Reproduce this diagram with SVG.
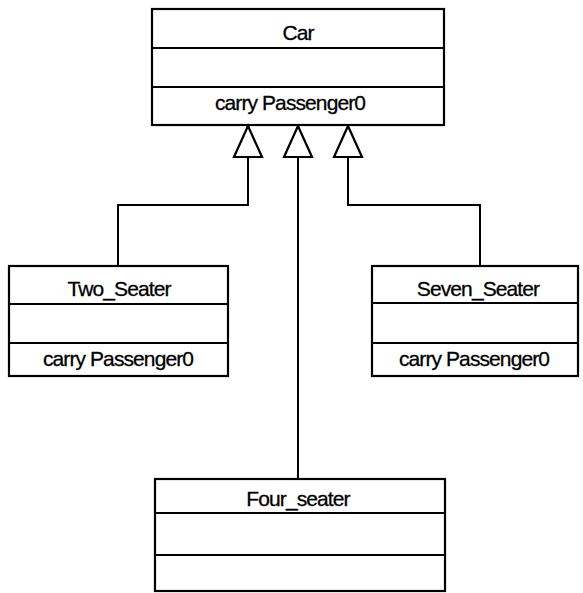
<svg xmlns="http://www.w3.org/2000/svg" width="583" height="593" viewBox="0 0 583 593">
<style>
.box{fill:#fff;stroke:#000;stroke-width:2.2}
.sep{stroke:#000;stroke-width:2}
.t{font-family:"Liberation Sans",Arial,sans-serif;font-size:21px;letter-spacing:-0.9px;fill:#000;stroke:#000;stroke-width:0.3;text-anchor:middle}
.c{fill:none;stroke:#000;stroke-width:2}
.tri{fill:#fff;stroke:#000;stroke-width:2.2;stroke-linejoin:miter}
</style>
<rect width="583" height="593" fill="#fff"/>
<g id="connectors">
<polyline class="c" points="248,156 248,205 118,205 118,266"/>
<polyline class="c" points="298,156 298,479"/>
<polyline class="c" points="348,156 348,205 480,205 480,266"/>
<polygon class="tri" points="248,126 262,157 234,157"/>
<polygon class="tri" points="298,126 312,157 284,157"/>
<polygon class="tri" points="348,126 362,157 334,157"/>
</g>
<g id="Car">
<rect class="box" x="152" y="9" width="292" height="116"/>
<line class="sep" x1="152" y1="48" x2="444" y2="48"/>
<line class="sep" x1="152" y1="87" x2="444" y2="87"/>
<text class="t" x="298" y="40">Car</text>
<text class="t" x="290" y="110">carry Passenger0</text>
</g>
<g id="Two_Seater">
<rect class="box" x="9" y="266" width="219" height="110"/>
<line class="sep" x1="9" y1="304" x2="228" y2="304"/>
<line class="sep" x1="9" y1="343" x2="228" y2="343"/>
<text class="t" x="119" y="296">Two_Seater</text>
<text class="t" x="118" y="366">carry Passenger0</text>
</g>
<g id="Seven_Seater">
<rect class="box" x="372" y="266" width="206" height="110"/>
<line class="sep" x1="372" y1="303" x2="578" y2="303"/>
<line class="sep" x1="372" y1="343" x2="578" y2="343"/>
<text class="t" x="478" y="296">Seven_Seater</text>
<text class="t" x="474" y="366">carry Passenger0</text>
</g>
<g id="Four_seater">
<rect class="box" x="155" y="479" width="290" height="112"/>
<line class="sep" x1="155" y1="513" x2="445" y2="513"/>
<line class="sep" x1="155" y1="555" x2="445" y2="555"/>
<text class="t" x="298" y="506">Four_seater</text>
</g>
</svg>
